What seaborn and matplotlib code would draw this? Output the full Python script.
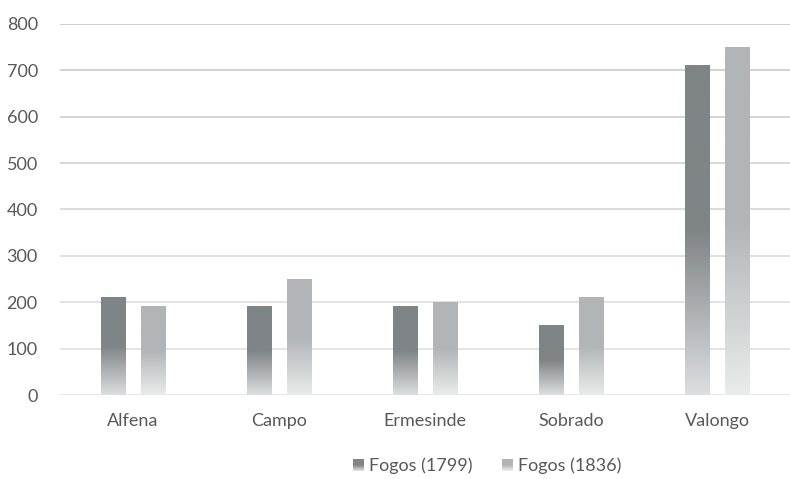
import numpy as np
import pandas as pd
import matplotlib
matplotlib.use("Agg")
import matplotlib.pyplot as plt
import seaborn as sns
from matplotlib.colors import to_rgb
from matplotlib.patches import Patch, Rectangle
from matplotlib.legend_handler import HandlerBase

categories = ["Alfena", "Campo", "Ermesinde", "Sobrado", "Valongo"]
fogos_1799 = [210, 190, 190, 150, 710]
fogos_1836 = [190, 250, 200, 210, 750]
series_names = ["Fogos (1799)", "Fogos (1836)"]
y_ticks = [0, 100, 200, 300, 400, 500, 600, 700, 800]

df = pd.DataFrame({
    "cat": categories * 2,
    "val": fogos_1799 + fogos_1836,
    "series": [series_names[0]] * 5 + [series_names[1]] * 5,
})

sns.set_theme(style="white")
plt.rcParams["font.family"] = ["Lato", "DejaVu Sans"]
text_color = "#595959"
colors = ["#7f8487", "#b2b5b6"]
fade_to = ["#dcdedf", "#eaebeb"]


def grad_colors(s, n):
    c0 = np.array(to_rgb(colors[s]))
    c1 = np.array(to_rgb(fade_to[s]))
    t = np.linspace(0, 1, n)  # 0 top, 1 bottom
    f = np.clip((t - 0.5) / 0.5, 0, 1)[:, None]
    return c0[None, :] * (1 - f) + c1[None, :] * f


fig = plt.figure(figsize=(7.9, 4.79), dpi=100)
ax = fig.add_axes([60 / 790, 1 - 395 / 479, 730 / 790, (395 - 24) / 479])

sns.barplot(data=df, x="cat", y="val", hue="series", palette=colors,
            width=0.548, gap=0.40, ax=ax, legend=False, zorder=3)

# gradient fills
for i, p in enumerate(ax.patches):
    s = 0 if i < 5 else 1
    x0, y0 = p.get_x(), p.get_y()
    w, h = p.get_width(), p.get_height()
    grad = grad_colors(s, 200)
    img = np.repeat(grad[:, None, :], 2, axis=1)
    ax.imshow(img, extent=[x0, x0 + w, y0, y0 + h], aspect="auto",
              zorder=3, interpolation="bilinear")
    p.set_visible(False)
ax.set_xlim(-0.5, 4.5)
ax.set_ylim(0, 800)

# gridlines with vertical fade
for v in y_ticks:
    f = v / 800
    top = np.array(to_rgb("#c6c6c6"))
    bot = np.array(to_rgb("#e4e4e4"))
    col = bot * (1 - f) + top * f
    ax.axhline(v, color=col, lw=1.2, zorder=1)

for sp in ax.spines.values():
    sp.set_visible(False)

ax.set_yticks(y_ticks)
ax.set_yticklabels([str(v) for v in y_ticks])
ax.tick_params(axis="both", length=0, labelsize=13, colors=text_color)
ax.tick_params(axis="y", pad=16)
ax.tick_params(axis="x", pad=13)
ax.set_xlabel("")
ax.set_ylabel("")


class GradHandler(HandlerBase):
    def __init__(self, s):
        super().__init__()
        self.s = s

    def create_artists(self, legend, orig_handle, xdescent, ydescent, width,
                       height, fontsize, trans):
        n = 12
        cols = grad_colors(self.s, n)
        arts = []
        side = min(width, height)
        x0 = -xdescent
        y0 = -ydescent + (height - side) / 2
        for k in range(n):
            yk = y0 + side - (k + 1) * side / n
            r = Rectangle((x0, yk), side, side / n + 0.05, facecolor=cols[k],
                          edgecolor="none", transform=trans)
            arts.append(r)
        return arts


handles = [Patch(facecolor=colors[0]), Patch(facecolor=colors[1])]
fig.legend(handles, series_names, loc="center", bbox_to_anchor=(487 / 790, 1 - 466 / 479),
           ncol=2, frameon=False, fontsize=13, labelcolor=text_color,
           handlelength=0.62, handleheight=0.62, handletextpad=0.3, columnspacing=1.6,
           handler_map={handles[0]: GradHandler(0), handles[1]: GradHandler(1)})

fig.savefig("out.png", dpi=100)
